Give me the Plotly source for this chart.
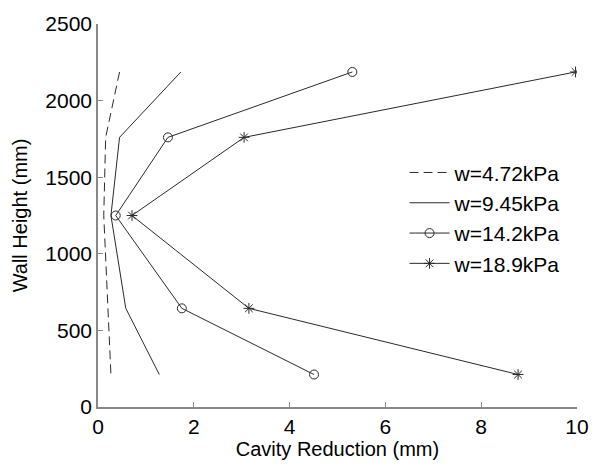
import plotly.graph_objects as go

heights = [2187, 1760, 1250, 644, 212]
w472 = [0.45, 0.16, 0.12, 0.20, 0.27]
w945 = [1.73, 0.45, 0.27, 0.58, 1.28]
w142 = [5.31, 1.46, 0.37, 1.75, 4.51]
w189 = [9.97, 3.05, 0.71, 3.15, 8.77]

names = ["w=4.72kPa", "w=9.45kPa", "w=14.2kPa", "w=18.9kPa"]
x_ticks = [0, 2, 4, 6, 8, 10]
y_ticks = [0, 500, 1000, 1500, 2000, 2500]

line_col = "#2a2a2a"
fig = go.Figure()
fig.add_trace(go.Scatter(x=w472, y=heights, mode="lines", name=names[0], legendgroup="a",
                         line=dict(color=line_col, width=1, dash="9px,5px")))
fig.add_trace(go.Scatter(x=w945, y=heights, mode="lines", name=names[1], legendgroup="b",
                         line=dict(color=line_col, width=1)))
fig.add_trace(go.Scatter(x=w142, y=heights, mode="lines+markers", name=names[2], legendgroup="c",
                         line=dict(color=line_col, width=1),
                         marker=dict(symbol="circle-open", size=9, color=line_col, line=dict(width=1))))
fig.add_trace(go.Scatter(x=w189, y=heights, mode="lines+markers", name=names[3], legendgroup="d",
                         line=dict(color=line_col, width=1),
                         marker=dict(symbol="asterisk-open", size=9, color=line_col, line=dict(width=1))))

font = "Liberation Sans, Arial, sans-serif"
fig.update_layout(
    width=601, height=466,
    margin=dict(l=98, r=18, t=24, b=58),
    paper_bgcolor="white", plot_bgcolor="white",
    font=dict(family=font, size=20, color="black"),
    showlegend=True,
    legend=dict(x=0.64, y=0.665, xanchor="left", yanchor="top",
                font=dict(size=21, color="black"), bgcolor="rgba(255,255,255,0)",
                tracegroupgap=0, itemwidth=40),
    xaxis=dict(range=[0, 10], tickvals=x_ticks, ticks="inside", ticklen=5, tickcolor="#888888",
               showline=True, linecolor="#888888", linewidth=1.5, showgrid=False, zeroline=False,
               title=dict(text="Cavity Reduction (mm)", font=dict(size=20), standoff=2),
               tickfont=dict(size=21)),
    yaxis=dict(range=[0, 2500], tickvals=y_ticks, ticks="inside", ticklen=5, tickcolor="#888888",
               showline=True, linecolor="#888888", linewidth=1.5, showgrid=False, zeroline=False,
               title=dict(text="Wall Height (mm)", font=dict(size=20), standoff=12),
               tickfont=dict(size=21)),
)
fig.write_html("out.html")
